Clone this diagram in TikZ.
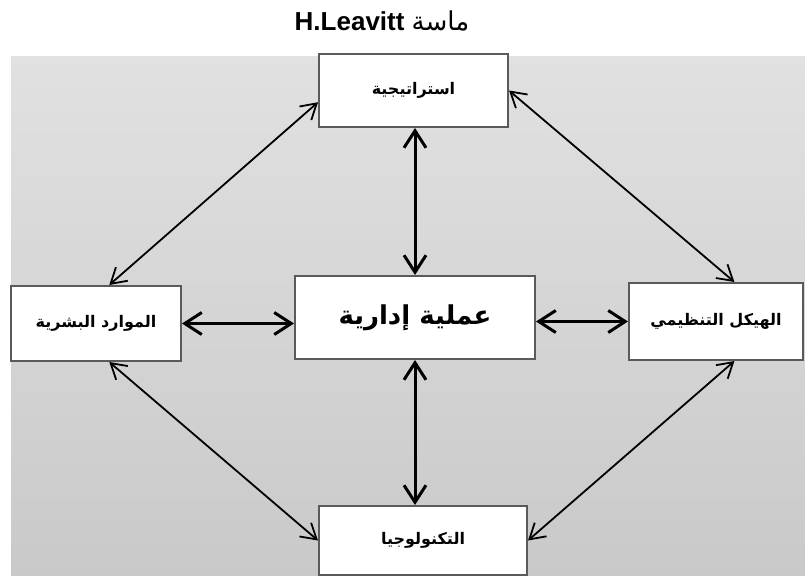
\documentclass[tikz,border=0pt]{standalone}
\usepackage{fontspec}
\setmainfont{Liberation Sans}
\newfontfamily\arabicfont[Script=Arabic]{DejaVu Sans}
\TeXXeTstate=1
\usetikzlibrary{arrows.meta}
\definecolor{bgtop}{HTML}{E1E1E1}
\definecolor{bgbot}{HTML}{C9C9C9}
\definecolor{boxline}{HTML}{5A5A5A}

\begin{document}
\begin{tikzpicture}[x=1pt,y=-1pt,
    box/.style={draw=boxline,line width=2pt,fill=white,inner sep=0pt,
        font=\arabicfont\bfseries\fontsize{16}{19}\selectfont},
    diag/.style={{Straight Barb[length=15pt,width=18pt]}-{Straight Barb[length=15pt,width=18pt]},line width=1.8pt},
    axis/.style={{Straight Barb[length=17pt,width=22pt]}-{Straight Barb[length=17pt,width=22pt]},line width=3pt}]
\useasboundingbox (0,0) rectangle (805,576);
\shade[top color=bgtop,bottom color=bgbot] (11,56) rectangle (805,575);

    \node (title) at (382,21) {\fontsize{26}{30}\selectfont\beginR{\arabicfont ماسة} \beginL{\bfseries H.Leavitt}\endL\endR};

    \node[box,minimum width=189pt,minimum height=73pt] (strat) at (413.5,90.5) {\beginR استراتيجية\endR};
    \node[box,minimum width=170pt,minimum height=75pt] (hr) at (96,323.5) {\beginR الموارد البشرية\endR};
    \node[box,minimum width=240pt,minimum height=83pt,font=\arabicfont\bfseries\fontsize{26}{30}\selectfont] (proc) at (415,317.5) {\beginR عملية إدارية\endR};
    \node[box,minimum width=174pt,minimum height=77pt] (struct) at (716,321.5) {\beginR الهيكل التنظيمي\endR};
    \node[box,minimum width=208pt,minimum height=69pt] (tech) at (423,540.5) {\beginR التكنولوجيا\endR};

\draw[axis] (strat.south -| proc.north) -- (proc.north);
\draw[axis] (proc.south) -- (proc.south |- tech.north);
\draw[axis] (hr.east) -- (hr.east -| proc.west);
\draw[axis] (proc.east |- struct.west) -- (struct.west);

\draw[diag] (strat.187) -- (hr.71);
\draw[diag] (strat.east) -- (struct.65);
\draw[diag] (hr.-71) -- (tech.west);
\draw[diag] (struct.-65) -- (tech.east);

\end{tikzpicture}
\end{document}
